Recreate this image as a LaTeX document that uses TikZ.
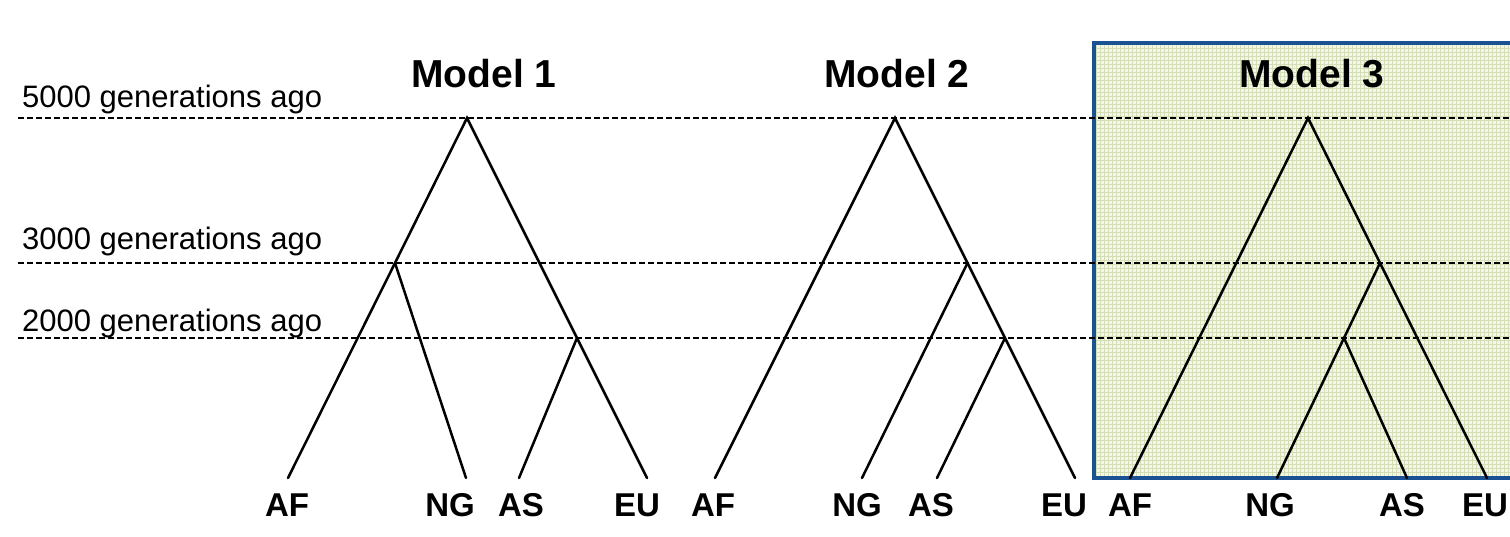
\documentclass[tikz,border=0pt]{standalone}
\usepackage{fontspec}
\setmainfont{Liberation Sans}
\definecolor{boxblue}{RGB}{27,82,148}
\definecolor{boxfill}{RGB}{245,246,234}
\definecolor{gridgreen}{RGB}{212,222,180}
\begin{document}
\begin{tikzpicture}[x=1pt,y=-1pt,
  branch/.style={line width=2.5pt,line cap=round},
  epoch/.style={line width=1.3pt,dash pattern=on 5.5pt off 3.5pt},
  title/.style={font=\fontsize{39}{39}\selectfont\bfseries,anchor=base},
  leaf/.style={font=\fontsize{33}{33}\selectfont\bfseries,anchor=base},
  genlabel/.style={font=\fontsize{31}{31}\selectfont,anchor=base west,inner sep=0pt}]
\useasboundingbox (0,0) rectangle (1510,537);
% highlighted box for model 3
\fill[boxfill] (1094,43) rectangle (1520,478);
\begin{scope}
  \clip (1094,43) rectangle (1520,478);
  \draw[gridgreen,line width=0.7pt,step=4pt] (1094,43) grid (1520,478);
\end{scope}
\draw[boxblue,line width=4.5pt] (1094,43) rectangle (1520,478);
% epoch lines and labels
\coordinate (g5l) at (18,118);  \coordinate (g5r) at (1510,118);
\coordinate (g3l) at (18,263);  \coordinate (g3r) at (1510,263);
\coordinate (g2l) at (18,338);  \coordinate (g2r) at (1510,338);
\draw[epoch] (g5l) -- (g5r);
\draw[epoch] (g3l) -- (g3r);
\draw[epoch] (g2l) -- (g2r);
\node[genlabel] (l5) at (22,108) {5000 generations ago};
\node[genlabel] (l3) at (22,250) {3000 generations ago};
\node[genlabel] (l2) at (22,331) {2000 generations ago};
% titles
\node[title] (t1) at (484,88) {Model 1};
\node[title] (t2) at (897,88) {Model 2};
\node[title] (t3) at (1312,88) {Model 3};
% ---------------- Model 1
\coordinate (r1) at (467,118);
\coordinate (a1) at (395,263);
\coordinate (b1) at (577,338);
\coordinate (af1) at (288,478);
\coordinate (ng1) at (466,478);
\coordinate (as1) at (519,478);
\coordinate (eu1) at (647,478);
\draw[branch] (af1) -- (a1) -- (r1) -- (b1) -- (eu1);
\draw[branch] (a1) -- (ng1);
\draw[branch] (b1) -- (as1);
\node[leaf] (AF1) at (287,516) {AF};
\node[leaf] (NG1) at (450,516) {NG};
\node[leaf] (AS1) at (521,516) {AS};
\node[leaf] (EU1) at (637,516) {EU};
% ---------------- Model 2
\coordinate (r2) at (895,118);
\coordinate (c2) at (967.5,263);
\coordinate (d2) at (1005,338);
\coordinate (af2) at (715,478);
\coordinate (ng2) at (862,478);
\coordinate (as2) at (937,478);
\coordinate (eu2) at (1075,478);
\draw[branch] (af2) -- (r2) -- (c2) -- (d2) -- (eu2);
\draw[branch] (c2) -- (ng2);
\draw[branch] (d2) -- (as2);
\node[leaf] (AF2) at (713,516) {AF};
\node[leaf] (NG2) at (857,516) {NG};
\node[leaf] (AS2) at (931,516) {AS};
\node[leaf] (EU2) at (1064,516) {EU};
% ---------------- Model 3
\coordinate (r3) at (1308,118);
\coordinate (e3) at (1380,263);
\coordinate (f3) at (1344,338);
\coordinate (af3) at (1130,478);
\coordinate (ng3) at (1277,478);
\coordinate (as3) at (1407,478);
\coordinate (eu3) at (1487,478);
\draw[branch] (af3) -- (r3) -- (e3) -- (eu3);
\draw[branch] (e3) -- (f3) -- (ng3);
\draw[branch] (f3) -- (as3);
\node[leaf] (AF3) at (1130,516) {AF};
\node[leaf] (NG3) at (1270,516) {NG};
\node[leaf] (AS3) at (1402,516) {AS};
\node[leaf] (EU3) at (1485,516) {EU};
\end{tikzpicture}
\end{document}
